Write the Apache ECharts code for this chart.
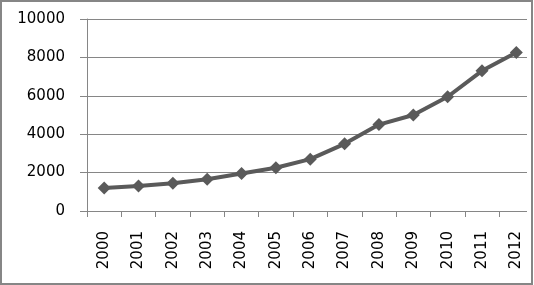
<!DOCTYPE html>
<html>
<head>
<meta charset="utf-8">
<script src="https://cdn.jsdelivr.net/npm/echarts@6/dist/echarts.min.js"></script>
<style>
html,body{margin:0;padding:0;background:#fff;}
#c{width:534px;height:285px;}
</style>
</head>
<body>
<div id="c"></div>
<script>
var years = ['2000','2001','2002','2003','2004','2005','2006','2007','2008','2009','2010','2011','2012'];
var values = [1200, 1300, 1450, 1650, 1950, 2250, 2700, 3500, 4500, 5000, 5950, 7300, 8250];
var yTicks = [0, 2000, 4000, 6000, 8000, 10000];

var chart = echarts.init(document.getElementById('c'));
chart.setOption({
  animation: false,
  backgroundColor: '#ffffff',
  grid: {left: 87, right: 0.5, top: 19, bottom: 74, containLabel: false},
  xAxis: {
    type: 'category',
    data: years,
    boundaryGap: true,
    axisLine: {lineStyle: {color: '#868686', width: 1}},
    axisTick: {show: true, length: 6, inside: false, lineStyle: {color: '#868686'}},
    axisLabel: {rotate: 90, margin: 20, color: '#000', fontFamily: 'DejaVu Sans', fontSize: 15}
  },
  yAxis: {
    type: 'value',
    min: yTicks[0],
    max: yTicks[yTicks.length - 1],
    interval: 2000,
    axisLine: {show: true, lineStyle: {color: '#868686', width: 1}},
    axisTick: {show: true, length: 7, inside: false, lineStyle: {color: '#868686'}},
    splitLine: {show: true, lineStyle: {color: '#868686', width: 1}},
    axisLabel: {margin: 22, color: '#000', fontFamily: 'DejaVu Sans', fontSize: 15,
      formatter: function (v) { return String(v); }}
  },
  series: [{
    type: 'line',
    data: values,
    symbol: 'diamond',
    symbolSize: 13,
    showAllSymbol: true,
    lineStyle: {color: '#5a5a5a', width: 4},
    itemStyle: {color: '#5a5a5a', borderWidth: 0}
  }],
  graphic: [{
    type: 'rect',
    z: 99,
    silent: true,
    shape: {x: 527, y: 0, width: 7, height: 285},
    style: {fill: '#ffffff'}
  }, {
    type: 'rect',
    z: 100,
    silent: true,
    shape: {x: 1, y: 1, width: 531, height: 283},
    style: {fill: 'none', stroke: '#868686', lineWidth: 2}
  }]
});
</script>
</body>
</html>
